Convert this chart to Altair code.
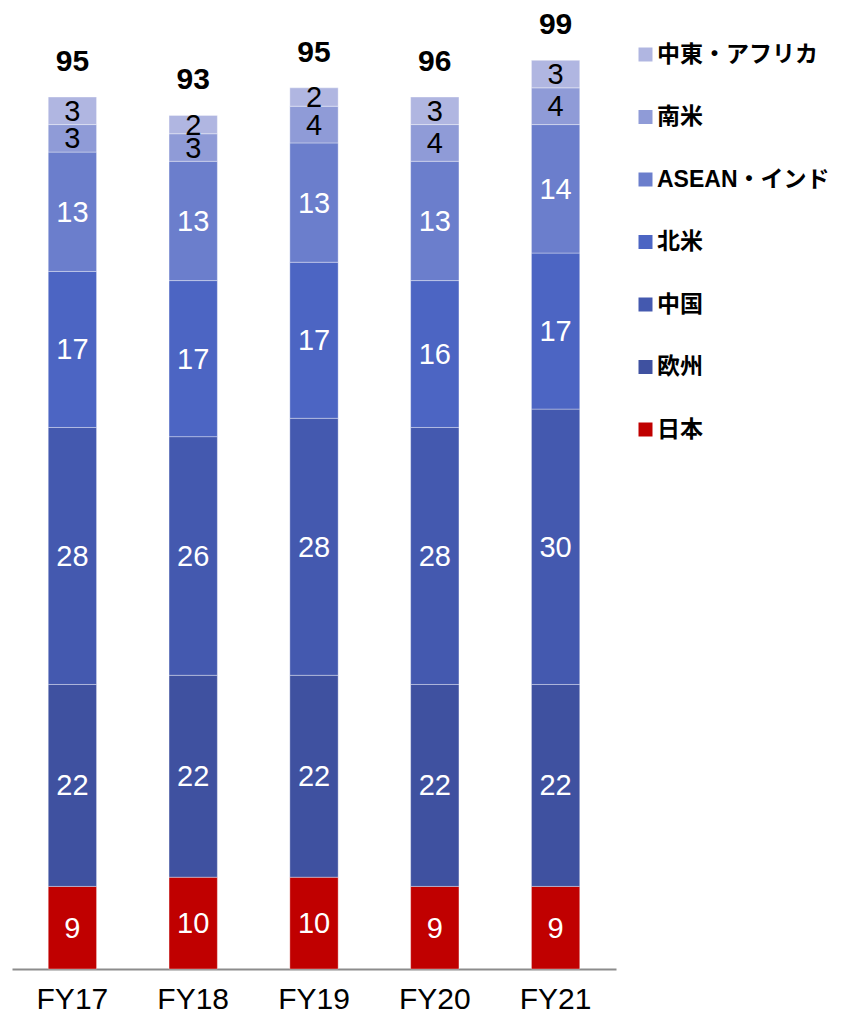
import altair as alt
import pandas as pd

years = ["FY17", "FY18", "FY19", "FY20", "FY21"]
regions = ["日本", "欧州", "中国", "北米", "ASEAN・インド", "南米", "中東・アフリカ"]
colors = ["#C00000", "#3F51A0", "#4459AF", "#4C65C3", "#6B7ECC", "#8F9BD7", "#B0B6E1"]

japan = [9, 10, 10, 9, 9]
europe = [22, 22, 22, 22, 22]
china = [28, 26, 28, 28, 30]
north_america = [17, 17, 17, 16, 17]
asean_india = [13, 13, 13, 13, 14]
south_america = [3, 3, 4, 4, 4]
mideast_africa = [3, 2, 2, 3, 3]
totals = [95, 93, 95, 96, 99]

series = [japan, europe, china, north_america, asean_india, south_america, mideast_africa]

rows = []
for i, (reg, vals) in enumerate(zip(regions, series)):
    for y, v in zip(years, vals):
        rows.append({"year": y, "region": reg, "value": v, "idx": i})
df = pd.DataFrame(rows)
tot_df = pd.DataFrame({"year": years, "total": totals})

FONT = "Liberation Sans, Arial, Noto Sans CJK JP"

base = alt.Chart(df)

x_enc = alt.X(
    "year:N", sort=years,
    scale=alt.Scale(paddingInner=0.6, paddingOuter=0.3),
    axis=alt.Axis(title=None, labelAngle=0, labelFontSize=30, labelFont=FONT,
                  labelColor="black", domainColor="#8c8c8c", domainWidth=2,
                  ticks=False, labelPadding=15, grid=False),
)
y_scale = alt.Scale(domain=[0, 104.7], nice=False, zero=True)

bars = base.mark_bar(stroke="white", strokeWidth=0.8, strokeOpacity=0.45).encode(
    x=x_enc,
    y=alt.Y("value:Q", stack="zero", scale=y_scale, axis=None),
    color=alt.Color(
        "region:N",
        scale=alt.Scale(domain=regions[::-1], range=colors[::-1]),
        legend=alt.Legend(
            title=None, orient="none", legendX=622, legendY=35,
            symbolType="square", symbolSize=196, symbolStrokeWidth=0,
            labelFontSize=23, labelFontWeight="bold", labelFont=FONT,
            labelColor="black", labelOffset=0, rowPadding=38.5, padding=0,
            labelLimit=400,
        ),
    ),
    order=alt.Order("idx:Q", sort="ascending"),
)

seg_text = base.transform_stack(
    stack="value", groupby=["year"], as_=["y0", "y1"],
    sort=[alt.SortField("idx", order="ascending")],
).transform_calculate(mid="(datum.y0 + datum.y1) / 2").mark_text(
    fontSize=29, font=FONT, baseline="middle", dy=1
).encode(
    x=alt.X("year:N", sort=years),
    y=alt.Y("mid:Q", scale=y_scale),
    text=alt.Text("value:Q"),
    color=alt.condition("datum.idx >= 5", alt.value("black"), alt.value("white")),
)

tot_text = base.transform_aggregate(
    top="sum(value)", groupby=["year"]
).transform_lookup(
    lookup="year", from_=alt.LookupData(tot_df, "year", ["total"])
).mark_text(
    fontSize=30, font=FONT, fontWeight="bold", baseline="alphabetic", dy=-26, color="black"
).encode(
    x=alt.X("year:N", sort=years),
    y=alt.Y("top:Q", scale=y_scale),
    text=alt.Text("total:Q"),
)

chart = alt.layer(bars, seg_text, tot_text).properties(
    width=604, height=961,
    autosize=alt.AutoSizeParams(type="none"),
    padding={"left": 4, "top": 0, "right": 216, "bottom": 44},
).configure_view(stroke=None)

chart.save("out.html", embed_options={"renderer": "svg", "actions": False})
